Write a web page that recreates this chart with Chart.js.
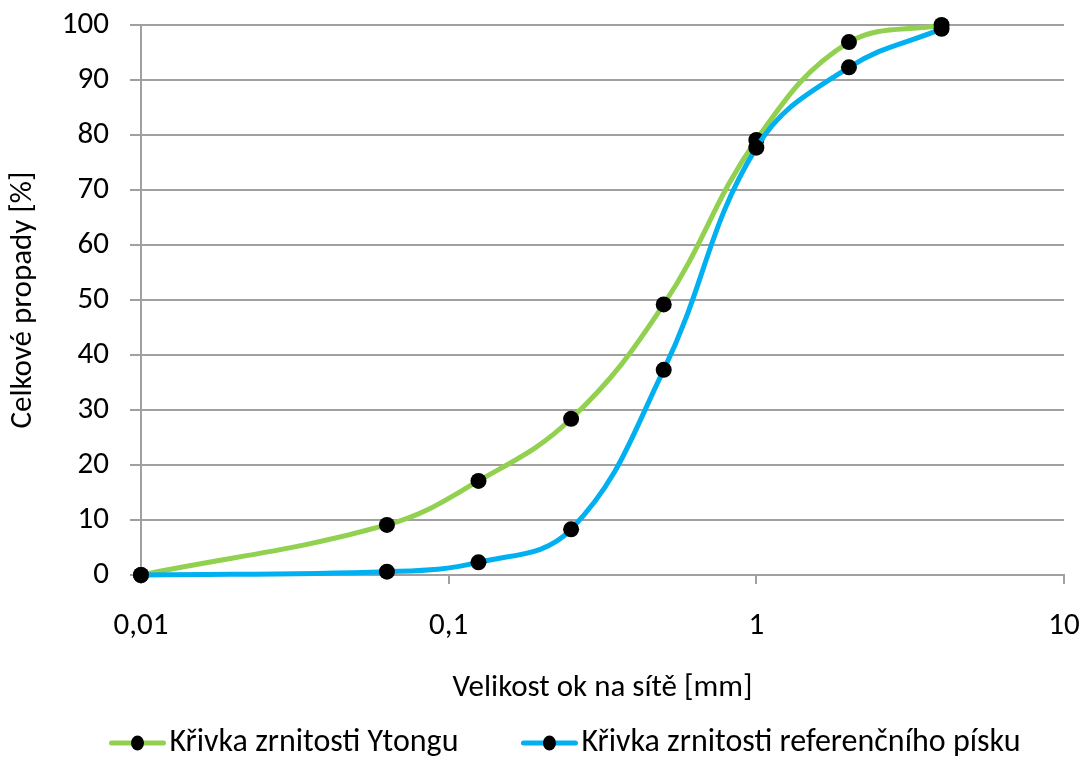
<!DOCTYPE html>
<html>
<head>
<meta charset="utf-8">
<script src="https://cdn.jsdelivr.net/npm/chart.js@4.4.1/dist/chart.umd.min.js"></script>
<style>
  html, body { margin: 0; padding: 0; background: #ffffff; }
  #wrap { width: 1084px; height: 760px; }
</style>
</head>
<body>
<div id="wrap"><canvas id="c" width="1084" height="760"></canvas></div>
<script>
// ---- data ----
const sieveSizes = [0.01, 0.063, 0.125, 0.25, 0.5, 1, 2, 4];
const ytongValues = [0, 9.1, 17.1, 28.4, 49.2, 79.1, 96.9, 100];
const sandValues = [0, 0.6, 2.3, 8.3, 37.3, 77.7, 92.3, 99.3];
const seriesLabels = ['Křivka zrnitosti Ytongu', 'Křivka zrnitosti referenčního písku'];
const seriesColors = ['#92D050', '#00B0F0'];
const xTickValues = [0.01, 0.1, 1, 10];
const xTickLabels = ['0,01', '0,1', '1', '10'];
const yTickValues = [0, 10, 20, 30, 40, 50, 60, 70, 80, 90, 100];
const xTitle = 'Velikost ok na sítě [mm]';
const yTitle = 'Celkové propady [%]';

const FONT = 'Carlito, Calibri, Lato, sans-serif';
const FS = 31;
const GRID = '#a0a0a0';

function pts(vals) { return sieveSizes.map((x, i) => ({ x: x, y: vals[i] })); }

function zeroPad(scale) {
  scale.paddingTop = 0; scale.paddingBottom = 0;
  scale.paddingLeft = 0; scale.paddingRight = 0;
}

const legendPlugin = {
  id: 'lineDotLegend',
  afterDraw(chart) {
    const ctx = chart.ctx;
    const ds = chart.data.datasets;
    ctx.save();
    ctx.font = '32px ' + FONT;
    const markerW = 56, gapMT = 4, gapItems = 63;
    const widths = ds.map(d => ctx.measureText(d.label).width);
    let total = 0;
    widths.forEach((w, i) => { total += markerW + gapMT + w + (i < widths.length - 1 ? gapItems : 0); });
    let x = 565 - total / 2;
    const y = 743;
    ds.forEach((d, i) => {
      ctx.strokeStyle = d.borderColor;
      ctx.lineWidth = 5;
      ctx.lineCap = 'round';
      ctx.beginPath();
      ctx.moveTo(x + 2, y);
      ctx.lineTo(x + markerW - 2, y);
      ctx.stroke();
      ctx.fillStyle = '#000';
      ctx.beginPath();
      ctx.ellipse(x + markerW / 2, y, 6.5, 7.5, 0, 0, Math.PI * 2);
      ctx.fill();
      ctx.fillStyle = '#000';
      ctx.textBaseline = 'middle';
      ctx.textAlign = 'left';
      ctx.fillText(d.label, x + markerW + gapMT, y);
      x += markerW + gapMT + widths[i] + gapItems;
    });
    ctx.restore();
  }
};

new Chart(document.getElementById('c'), {
  type: 'line',
  data: {
    datasets: [
      {
        label: seriesLabels[0],
        data: pts(ytongValues),
        borderColor: seriesColors[0],
        backgroundColor: seriesColors[0],
        borderWidth: 5,
        pointRadius: 8,
        pointBackgroundColor: '#000',
        pointBorderWidth: 0,
        tension: 0.4,
        clip: false,
        order: 1
      },
      {
        label: seriesLabels[1],
        data: pts(sandValues),
        borderColor: seriesColors[1],
        backgroundColor: seriesColors[1],
        borderWidth: 5,
        pointRadius: 8,
        pointBackgroundColor: '#000',
        pointBorderWidth: 0,
        tension: 0.4,
        clip: false,
        order: 0
      }
    ]
  },
  options: {
    responsive: false,
    animation: false,
    layout: { padding: { top: 25, right: 20, bottom: 45, left: 0 } },
    plugins: { legend: { display: false }, tooltip: { enabled: false } },
    scales: {
      x: {
        type: 'logarithmic',
        min: 0.01,
        max: 10,
        afterBuildTicks(scale) { scale.ticks = xTickValues.map(v => ({ value: v, major: true })); },
        afterFit(scale) { scale.height = 140; zeroPad(scale); },
        ticks: {
          autoSkip: false,
          maxRotation: 0,
          padding: 24,
          color: '#000',
          font: { family: FONT, size: FS },
          callback: function (value) {
            const idx = xTickValues.findIndex(v => Math.abs(v - value) < 1e-9);
            return idx >= 0 ? xTickLabels[idx] : '';
          }
        },
        grid: { display: true, drawOnChartArea: false, drawTicks: true, tickLength: 9, color: GRID, lineWidth: 2 },
        border: { display: true, color: GRID, width: 2 },
        title: { display: true, text: xTitle, color: '#000', font: { family: FONT, size: FS }, padding: { top: 0, bottom: 8 } }
      },
      y: {
        type: 'linear',
        min: 0,
        max: 100,
        afterBuildTicks(scale) { scale.ticks = yTickValues.map(v => ({ value: v })); },
        afterFit(scale) { scale.width = 141; zeroPad(scale); },
        ticks: { padding: 21, color: '#000', font: { family: FONT, size: FS } },
        grid: { color: GRID, lineWidth: 2, tickLength: 11 },
        border: { display: true, color: GRID, width: 2 },
        title: { display: true, text: yTitle, color: '#000', font: { family: FONT, size: FS }, padding: { top: 5, bottom: 0 } }
      }
    }
  },
  plugins: [legendPlugin]
});
</script>
</body>
</html>
